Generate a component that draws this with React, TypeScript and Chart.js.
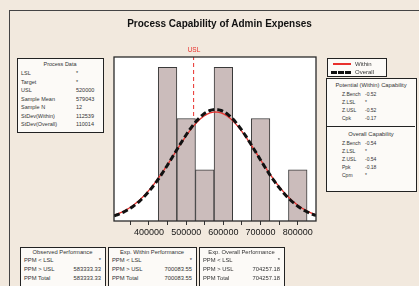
import React, { useEffect, useRef } from "react";
import { Chart, registerables } from "chart.js";
Chart.register(...registerables);

// ---- data ----
const BIN_CENTERS = [450000, 500000, 550000, 600000, 650000, 700000, 750000, 800000];
const BIN_COUNTS = [3, 2, 1, 3, 0, 2, 0, 1];
const TICK_VALUES = [350000, 400000, 450000, 500000, 550000, 600000, 650000, 700000, 750000, 800000];
const TICK_LABELS = ["", "400000", "", "500000", "", "600000", "", "700000", "", "800000"];
const USL = 520000;
const SAMPLE_MEAN = 579043;
const SAMPLE_N = 12;
const STDEV_WITHIN = 112539;
const STDEV_OVERALL = 110014;
const BIN_WIDTH = 50000;
const X_MIN = 306000;
const X_MAX = 849000;
const Y_MAX = 3.2;

const PROCESS_LABELS = ["LSL", "Target", "USL", "Sample Mean", "Sample N", "StDev(Within)", "StDev(Overall)"];
const PROCESS_VALUES = ["*", "*", "520000", "579043", "12", "112539", "110014"];
const WITHIN_CAP_LABELS = ["Z.Bench", "Z.LSL", "Z.USL", "Cpk"];
const WITHIN_CAP_VALUES = ["-0.52", "*", "-0.52", "-0.17"];
const OVERALL_CAP_LABELS = ["Z.Bench", "Z.LSL", "Z.USL", "Ppk", "Cpm"];
const OVERALL_CAP_VALUES = ["-0.54", "*", "-0.54", "-0.18", "*"];
const PERF_TITLES = ["Observed Performance", "Exp. Within Performance", "Exp. Overall Performance"];
const PERF_LABELS = ["PPM < LSL", "PPM > USL", "PPM Total"];
const PERF_OBSERVED = ["*", "583333.33", "583333.33"];
const PERF_WITHIN = ["*", "700083.55", "700083.55"];
const PERF_OVERALL = ["*", "704257.18", "704257.18"];

// fitted normal curves from the displayed mean / stdev, scaled to counts
function fittedCurve(sd: number) {
  const pts: { x: number; y: number }[] = [];
  for (let x = X_MIN; x <= X_MAX; x += 3000) {
    const z = (x - SAMPLE_MEAN) / sd;
    const y = (SAMPLE_N * BIN_WIDTH) / (sd * Math.sqrt(2 * Math.PI)) * Math.exp(-0.5 * z * z);
    pts.push({ x, y });
  }
  return pts;
}

const BG = "#f2e9de";
const FONT = "'Liberation Sans', Arial, sans-serif";

const frame = {
  id: "frame",
  beforeDatasetsDraw(chart: any) {
    const { ctx, chartArea: a } = chart;
    ctx.save();
    ctx.fillStyle = "#ffffff";
    ctx.fillRect(a.left, a.top, a.right - a.left, a.bottom - a.top);
    ctx.restore();
  },
  afterDatasetsDraw(chart: any) {
    const { ctx, chartArea: a } = chart;
    ctx.save();
    ctx.strokeStyle = "#2a2a2a";
    ctx.lineWidth = 1.3;
    ctx.strokeRect(a.left, a.top, a.right - a.left, a.bottom - a.top);
    ctx.restore();
  },
};

const boxStyle = (left: number, top: number, width: number, height: number): React.CSSProperties => ({
  position: "absolute",
  left,
  top,
  width,
  height,
  border: "1.5px solid #222",
  background: "#fcfaf7",
  boxSizing: "border-box",
});

const txt = (left: number, top: number, size: number, extra: React.CSSProperties = {}): React.CSSProperties => ({
  position: "absolute",
  left,
  top,
  fontSize: size,
  lineHeight: 1,
  whiteSpace: "nowrap",
  color: "#333",
  ...extra,
});

export default function App() {
  const ref = useRef<HTMLCanvasElement>(null);
  useEffect(() => {
    document.body.style.margin = "0";
    const chart = new Chart(ref.current as HTMLCanvasElement, {
      type: "bar",
      data: {
        datasets: [
          {
            type: "line",
            label: "Overall",
            data: fittedCurve(STDEV_OVERALL),
            borderColor: "#111",
            borderWidth: 3,
            borderDash: [6, 3],
            pointRadius: 0,
            fill: false,
            order: 0,
          } as any,
          {
            type: "line",
            label: "Within",
            data: fittedCurve(STDEV_WITHIN),
            borderColor: "#e8302c",
            borderWidth: 1.3,
            pointRadius: 0,
            fill: false,
            order: 1,
          } as any,
          {
            type: "bar",
            label: "Counts",
            data: BIN_CENTERS.map((x, i) => ({ x, y: BIN_COUNTS[i] })),
            backgroundColor: "#cbbcbb",
            borderColor: "#3a3a3a",
            borderWidth: 1,
            barPercentage: 1,
            categoryPercentage: 1,
            order: 2,
          } as any,
          {
            type: "line",
            label: "USL",
            data: [
              { x: USL, y: 0 },
              { x: USL, y: Y_MAX },
            ],
            borderColor: "#e8302c",
            borderWidth: 1,
            borderDash: [4, 3],
            pointRadius: 0,
            order: 3,
          } as any,
        ],
      },
      options: {
        animation: false,
        responsive: false,
        maintainAspectRatio: false,
        layout: { padding: { left: 114, right: 103, top: 57, bottom: 0 } },
        plugins: { legend: { display: false }, tooltip: { enabled: false }, title: { display: false } },
        scales: {
          x: {
            type: "linear",
            min: X_MIN,
            max: X_MAX,
            offset: false,
            afterBuildTicks: (s: any) => {
              s.ticks = TICK_VALUES.map((v) => ({ value: v }));
            },
            afterFit: (s: any) => {
              s.height = 65;
            },
            ticks: {
              callback: (_v: any, i: number) => TICK_LABELS[i],
              autoSkip: false,
              maxRotation: 0,
              padding: 2,
              color: "#151515",
              font: { size: 9, family: FONT },
            },
            grid: { drawOnChartArea: false, offset: false, tickLength: 4, color: "#333" },
            border: { display: false },
          },
          y: { display: false, min: 0, max: Y_MAX },
        },
      } as any,
      plugins: [frame],
    });
    return () => chart.destroy();
  }, []);

  const perfBoxes = [
    { left: 20, width: 86, values: PERF_OBSERVED },
    { left: 108, width: 89, values: PERF_WITHIN },
    { left: 199, width: 86, values: PERF_OVERALL },
  ];

  return (
    <div style={{ position: "relative", width: 419, height: 286, background: BG, overflow: "hidden", fontFamily: FONT }}>
      <div style={{ position: "absolute", left: 9, top: 10, width: 430, height: 300, borderTop: "1.5px solid #444", borderLeft: "1.5px solid #444" }} />
      <canvas ref={ref} width={419} height={286} style={{ position: "absolute", left: 0, top: 0, width: 419, height: 286 }} />
      <div style={txt(116, 19, 10, { width: 207, textAlign: "center", fontWeight: "bold", color: "#111" })}>
        Process Capability of Admin Expenses
      </div>
      <div style={txt(186, 47, 6.5, { color: "#e8302c", width: 16, textAlign: "center" })}>USL</div>

      {/* Process data */}
      <div style={boxStyle(17, 58, 87, 75)}>
        <div style={txt(0, 3, 5.5, { width: 84, textAlign: "center" })}>Process Data</div>
        {PROCESS_LABELS.map((l, i) => (
          <React.Fragment key={l}>
            <div style={txt(3, 12 + i * 8.5, 5.5)}>{l}</div>
            <div style={txt(58, 12 + i * 8.5, 5.5)}>{PROCESS_VALUES[i]}</div>
          </React.Fragment>
        ))}
      </div>

      {/* Legend */}
      <div style={boxStyle(327, 58, 60, 19)}>
        <div style={{ position: "absolute", left: 5, top: 4, width: 18, borderTop: "2px solid #e8302c" }} />
        <div style={txt(27, 2, 6)}>Within</div>
        <div style={{ position: "absolute", left: 3, top: 12, width: 20, borderTop: "3px dashed #111" }} />
        <div style={txt(27, 10, 6)}>Overall</div>
      </div>

      {/* Capability */}
      <div style={boxStyle(326, 78, 91, 114)}>
        <div style={txt(0, 4, 5.8, { width: 88, textAlign: "center" })}>Potential (Within) Capability</div>
        {WITHIN_CAP_LABELS.map((l, i) => (
          <React.Fragment key={"w" + l}>
            <div style={txt(15, 13 + i * 8, 5)}>{l}</div>
            <div style={txt(38, 13 + i * 8, 5)}>{WITHIN_CAP_VALUES[i]}</div>
          </React.Fragment>
        ))}
        <div style={{ position: "absolute", left: 0, top: 47, width: 88, borderTop: "1.5px solid #222" }} />
        <div style={txt(0, 53, 5.8, { width: 88, textAlign: "center" })}>Overall Capability</div>
        {OVERALL_CAP_LABELS.map((l, i) => (
          <React.Fragment key={"o" + l}>
            <div style={txt(15, 62 + i * 8, 5)}>{l}</div>
            <div style={txt(38, 62 + i * 8, 5)}>{OVERALL_CAP_VALUES[i]}</div>
          </React.Fragment>
        ))}
      </div>

      {/* Performance */}
      {perfBoxes.map((b, k) => (
        <div key={k} style={boxStyle(b.left, 247, b.width, 42)}>
          <div style={txt(0, 2, 5.8, { width: b.width - 3, textAlign: "center" })}>{PERF_TITLES[k]}</div>
          {PERF_LABELS.map((l, i) => (
            <React.Fragment key={l}>
              <div style={txt(3, 10 + i * 9, 5.8)}>{l}</div>
              <div style={txt(0, 10 + i * 9, 5.8, { width: b.width - 6, textAlign: "right" })}>{b.values[i]}</div>
            </React.Fragment>
          ))}
        </div>
      ))}
    </div>
  );
}
